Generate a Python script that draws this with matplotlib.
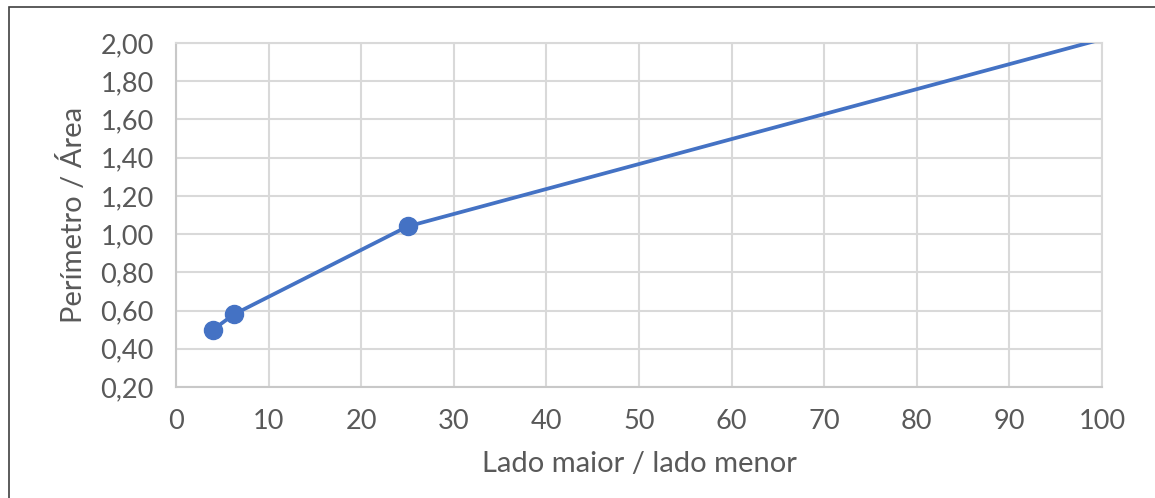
import matplotlib
matplotlib.use("Agg")
import matplotlib.pyplot as plt
from matplotlib.patches import Rectangle

ratio = [4, 6.25, 25, 100]
perim_area = [0.50, 0.58, 1.04, 2.02]
x_ticks = [0, 10, 20, 30, 40, 50, 60, 70, 80, 90, 100]
y_ticks = [0.20, 0.40, 0.60, 0.80, 1.00, 1.20, 1.40, 1.60, 1.80, 2.00]
x_label = "Lado maior / lado menor"
y_label = "Perímetro / Área"

plt.rcParams['font.family'] = ['Lato', 'DejaVu Sans']
W, H = 1155, 498
fig = plt.figure(figsize=(W / 100, H / 100), dpi=100)
ax = fig.add_axes([176 / W, 1 - 387 / H, (1102 - 176) / W, (387 - 43) / H])

text_col = '#595959'
grid_col = '#d9d9d9'

ax.plot(ratio, perim_area, color='#4472C4', lw=2.7, marker='o', markersize=13,
        markevery=[0, 1, 2], solid_capstyle='round', zorder=3)

ax.set_xlim(0, 100)
ax.set_ylim(0.20, 2.00)
ax.set_xticks(x_ticks)
ax.set_yticks(y_ticks)
ax.set_yticklabels([f"{v:.2f}".replace('.', ',') for v in y_ticks])
ax.set_xticklabels([str(v) for v in x_ticks])
ax.tick_params(axis='both', length=0, pad=16, labelsize=19.5, labelcolor=text_col)
ax.grid(True, color=grid_col, lw=1.5)
ax.set_axisbelow(True)
for s in ax.spines.values():
    s.set_color(grid_col)
    s.set_linewidth(1.5)
ax.spines['left'].set_color('#c8c8c8')
ax.spines['bottom'].set_color('#c8c8c8')

ax.set_xlabel(x_label, fontsize=21, color=text_col, labelpad=12)
ax.set_ylabel(y_label, fontsize=21, color=text_col, labelpad=10)

fig.patches.append(Rectangle((9 / W, -0.1), 1.2, 1 - 7 / H + 0.1, transform=fig.transFigure,
                             fill=False, edgecolor='#404040', lw=1.2))

fig.savefig('out.png', dpi=100)
